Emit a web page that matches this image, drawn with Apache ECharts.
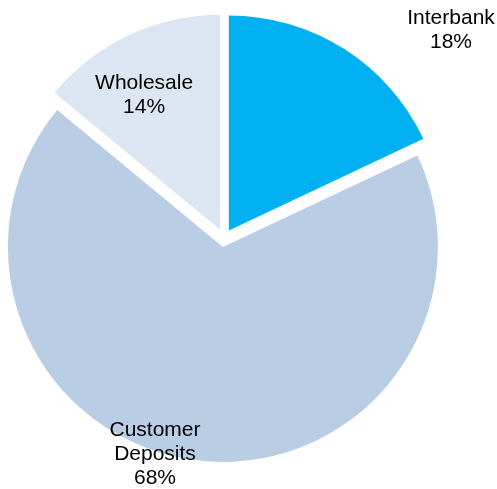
<!DOCTYPE html>
<html>
<head>
<meta charset="utf-8">
<script src="https://cdn.jsdelivr.net/npm/echarts@6/dist/echarts.min.js"></script>
<style>
  html, body { margin: 0; padding: 0; background: #fff; }
  #chart { width: 497px; height: 489px; }
</style>
</head>
<body>
<div id="chart"></div>
<script>
const categories = ['Interbank', 'Customer Deposits', 'Wholesale']
const shares = [18, 68, 14]
const colors = ['#00B0F0', '#B9CDE5', '#DCE6F2']
// label nudges from the default inside position, in pixels
const labelOffsets = [[163, -107], [-54, 98], [-29, -35]]

const chart = echarts.init(document.getElementById('chart'))

const pieData = categories.map((name, i) => ({
  name: name,
  value: shares[i],
  selected: true,
  itemStyle: { color: colors[i] }
}))

chart.setOption({
  backgroundColor: '#fff',
  animation: false,
  series: [
    {
      type: 'pie',
      center: [224, 238],
      radius: [0, 215],
      startAngle: 90,
      clockwise: true,
      selectedMode: 'multiple',
      selectedOffset: 9,
      avoidLabelOverlap: false,
      data: pieData,
      label: {
        show: true,
        position: 'inside',
        color: '#000',
        fontFamily: 'Liberation Sans, Arial, sans-serif',
        fontSize: 21,
        lineHeight: 24,
        align: 'center',
        formatter: function(params) {
          return params.name.replace(' ', '\n') + '\n' + params.value + '%'
        }
      },
      labelLayout: function(params) {
        const off = labelOffsets[params.dataIndex]
        return { dx: off[0], dy: off[1] }
      },
      labelLine: { show: false },
      emphasis: { disabled: true },
      select: { itemStyle: {} }
    }
  ]
})
</script>
</body>
</html>
